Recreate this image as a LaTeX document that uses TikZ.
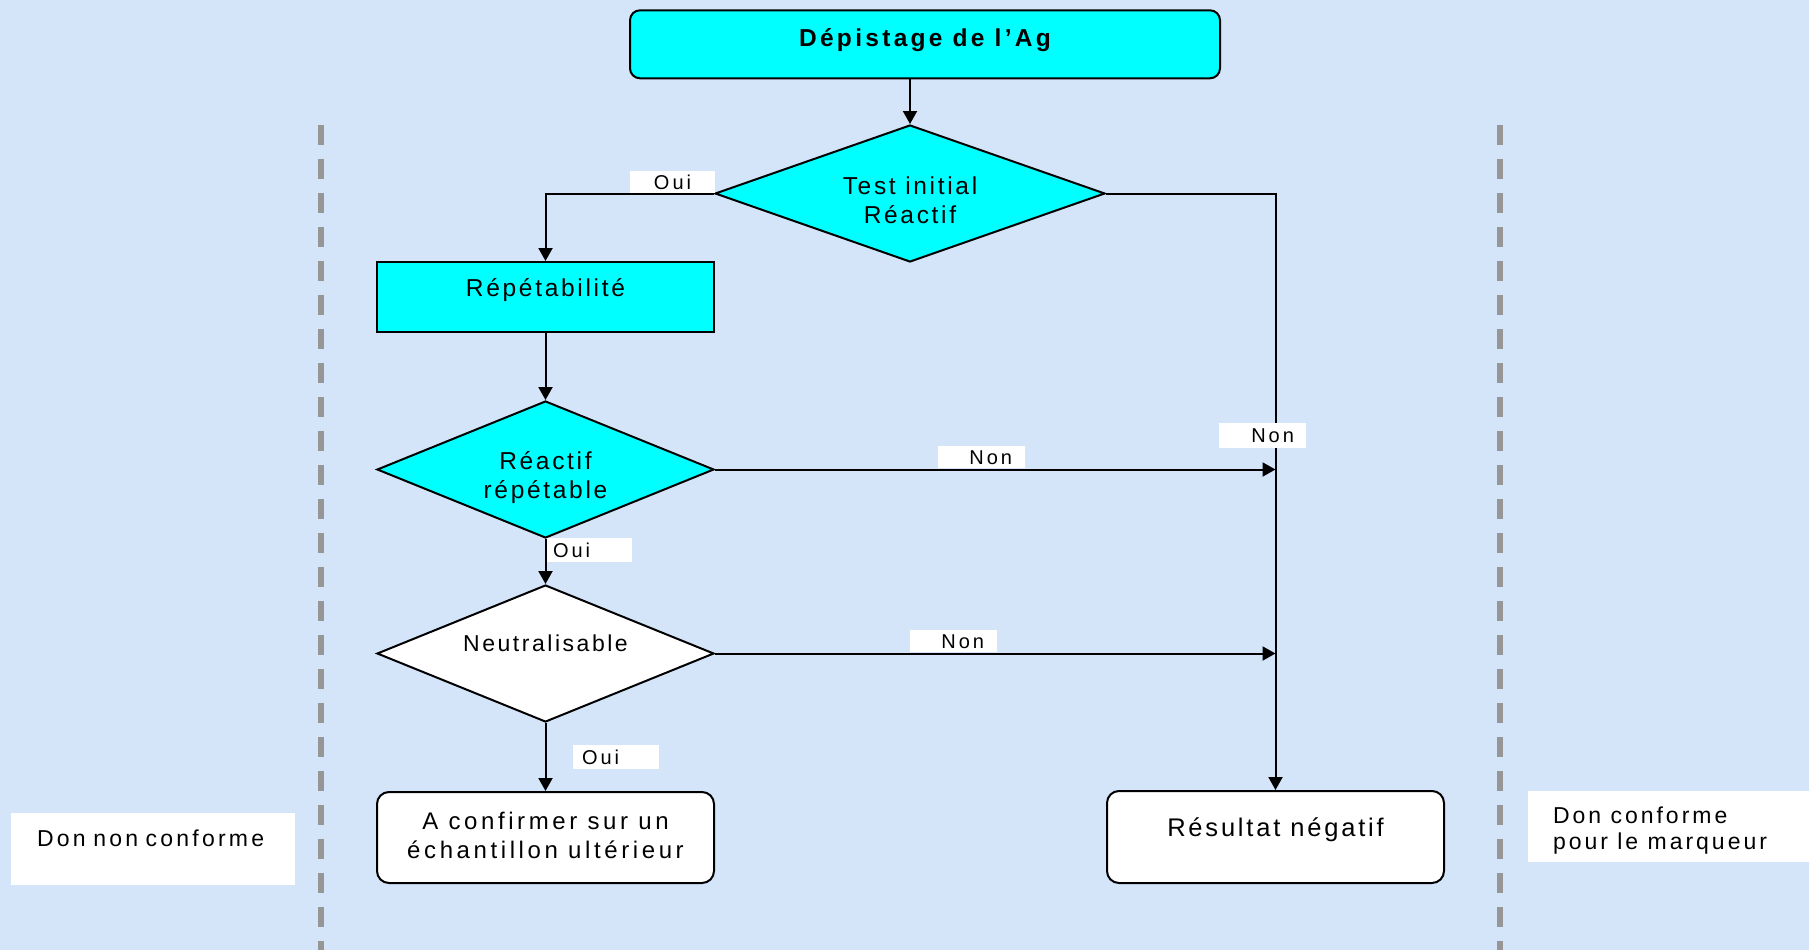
\documentclass[tikz,border=0pt]{standalone}
\usepackage{fontspec}
\setmainfont{Liberation Sans}[LetterSpace=11]
\newfontfamily\labfont{Liberation Sans}[LetterSpace=15]
\newfontfamily\notefont{Liberation Sans}[LetterSpace=14]
\newfontfamily\notefontb{Liberation Sans}[LetterSpace=13]
\newfontfamily\conffont{Liberation Sans}[LetterSpace=15]
\newfontfamily\topfont{Liberation Sans}[LetterSpace=13.5]
\usetikzlibrary{shapes.geometric,arrows.meta}
\definecolor{bgblue}{RGB}{212,229,250}
\definecolor{sepgray}{RGB}{150,150,150}
\definecolor{boxcyan}{RGB}{0,255,255}
% centred multi-line text of zero size, first baseline raised by #1
\newcommand{\ctext}[2]{\makebox[0pt][c]{\raisebox{#1}[0pt][0pt]{\begin{tabular}[t]{@{}c@{}}#2\end{tabular}}}}
% left-aligned multi-line text, shifted by #1 horizontally, first baseline raised by #2
\newcommand{\ltext}[3]{\makebox[0pt][l]{\hspace*{#1}\raisebox{#2}[0pt][0pt]{\begin{tabular}[t]{@{}l@{}}#3\end{tabular}}}}
\begin{document}
\begin{tikzpicture}[x=1pt,y=-1pt,
  arr/.style={-{Triangle[length=13pt,width=14pt]}, line width=2pt},
  cybox/.style={draw, fill=boxcyan, line width=2pt, inner sep=0pt},
  whbox/.style={draw, fill=white, line width=2pt, inner sep=0pt},
  dia/.style={diamond, aspect=2.46, inner sep=0pt, draw, line width=2pt},
  lab/.style={fill=white, inner ysep=0pt, font=\labfont\fontsize{20}{22}\selectfont, text height=14.3pt, text depth=0pt},
  note/.style={fill=white, inner sep=0pt},
  sep/.style={draw=sepgray, line width=6pt, dash pattern=on 20pt off 14pt}
]
\useasboundingbox (0,0) rectangle (1809,950);
\fill[bgblue] (0,0) rectangle (1809,950);

% separators
\coordinate (s1a) at (321,125);
\coordinate (s1b) at (321,950);
\coordinate (s2a) at (1500,125);
\coordinate (s2b) at (1500,950);
\draw[sep] (s1a) -- (s1b);
\draw[sep] (s2a) -- (s2b);

% main nodes
\node[cybox, rounded corners=10pt, minimum width=590pt, minimum height=68pt,
  font=\topfont\bfseries\fontsize{24.5}{28}\selectfont, text height=17.5pt, text depth=14pt]
  (top) at (925,44.3) {Dépistage de l’Ag};

\node[dia, fill=boxcyan, minimum width=390pt, minimum height=137pt,
  font=\fontsize{24.5}{29}\selectfont]
  (d1) at (910,193.5) {\ctext{-0.5pt}{Test initial\\Réactif}};

\node[cybox, minimum width=337pt, minimum height=70pt,
  font=\fontsize{24.5}{29}\selectfont, text height=18pt, text depth=20pt]
  (rep) at (545.5,297) {Répétabilité};

\node[dia, fill=boxcyan, minimum width=337pt, minimum height=137pt,
  font=\fontsize{24.5}{29}\selectfont]
  (d2) at (545.5,469.5) {\ctext{0.5pt}{Réactif\\répétable}};

\node[dia, fill=white, minimum width=337pt, minimum height=137pt,
  font=\fontsize{23}{28}\selectfont, text height=16.5pt, text depth=21.5pt]
  (d3) at (545.5,653.5) {Neutralisable};

\node[whbox, rounded corners=12pt, minimum width=337pt, minimum height=91pt,
  font=\conffont\fontsize{24}{29}\selectfont]
  (conf) at (545.5,837.5) {\ctext{8.5pt}{A confirmer sur un\\échantillon ultérieur}};

\node[whbox, rounded corners=12pt, minimum width=337pt, minimum height=92pt,
  font=\fontsize{25.5}{30}\selectfont, text height=19pt, text depth=21pt]
  (neg) at (1275.5,837) {Résultat négatif};

% connectors
\draw[arr] (top.south -| d1.north) -- (d1.north);
\draw[arr] (d1.west) -| (rep.north);
\draw[arr] (rep.south) -- (d2.north);
\draw[arr] (d2.south) -- (d3.north);
\draw[arr] (d3.south) -- (conf.north);
\draw[arr] (d1.east) -| (neg.north);
\draw[arr] (d2.east) -- (d2.east -| neg.north);
\draw[arr] (d3.east) -- (d3.east -| neg.north);

% connector labels
\node[lab, minimum width=85pt, minimum height=22pt, inner xsep=22pt, text width=41pt, align=center]
  (oui1) at (672.5,182) {Oui};
\node[lab, minimum width=85pt, minimum height=24pt, inner xsep=6pt, text width=73pt, align=left]
  (oui2) at (589.5,550) {Oui};
\node[lab, minimum width=86pt, minimum height=24pt, inner xsep=9pt, text width=68pt, align=left]
  (oui3) at (616,757) {Oui};
\node[lab, minimum width=87pt, minimum height=25pt, inner xsep=12pt, text width=63pt, align=right]
  (non1) at (1262.5,435.5) {Non};
\node[lab, minimum width=87pt, minimum height=22pt, inner xsep=13pt, text width=61pt, align=right]
  (non2) at (981.5,457) {Non};
\node[lab, minimum width=87pt, minimum height=22pt, inner xsep=13pt, text width=61pt, align=right]
  (non3) at (953.5,641) {Non};

% side notes
\node[note, minimum width=284pt, minimum height=72pt, inner xsep=26pt, text width=232pt, align=left,
  font=\notefont\fontsize{23}{26}\selectfont, text height=16.7pt, text depth=22.7pt]
  (nonconf) at (153,849) {Don non conforme};
\node[note, minimum width=281pt, minimum height=71pt,
  font=\notefontb\fontsize{23}{26}\selectfont]
  (confm) at (1668.5,826.5) {\ltext{-115.5pt}{3.5pt}{Don conforme\\pour le marqueur}};
\end{tikzpicture}
\end{document}
